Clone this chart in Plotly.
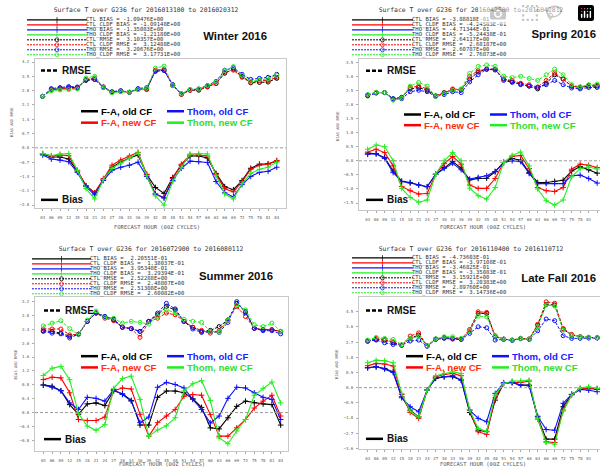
import plotly.graph_objects as go

W, H = 600, 471

HOURS = list(range(3, 85, 3))
XTICK_LABELS = [f"{h:02d}" for h in HOURS]
SERIES = ["CTL", "CTL_CLDF", "THO", "THO_CLDF"]
LABELS = ["F-A, old CF", "F-A, new CF", "Thom, old CF", "Thom, new CF"]

# ---------------- Winter 2016 ----------------
W_CTL_BIAS = [-0.30, -0.45, -0.45, -0.55, -1.13, -1.86, -2.20, -1.55, -0.95, -0.70, -0.50, -0.35, -1.30, -1.94,
              -2.23, -1.45, -0.85, -0.40, -0.40, -0.50, -1.25, -1.90, -2.05, -1.60, -1.00, -0.80, -0.78, -0.65]
W_CLDF_BIAS = [-0.28, -0.40, -0.35, -0.38, -1.10, -1.85, -2.20, -1.50, -0.85, -0.60, -0.40, -0.22, -1.30, -2.26,
               -2.43, -1.50, -0.80, -0.35, -0.35, -0.40, -1.30, -2.00, -2.15, -1.65, -1.05, -0.85, -0.80, -0.62]
W_THO_BIAS = [-0.35, -0.55, -0.60, -0.68, -1.20, -1.90, -2.30, -1.60, -1.10, -0.95, -0.85, -0.70, -1.40, -2.26,
              -2.46, -1.60, -1.00, -0.65, -0.68, -0.72, -1.65, -2.20, -2.40, -1.80, -1.40, -1.20, -1.15, -0.95]
W_THOCLDF_BIAS = [-0.28, -0.38, -0.30, -0.28, -1.10, -2.00, -2.50, -1.55, -1.00, -0.75, -0.50, -0.25, -1.35, -2.35,
                  -2.80, -1.65, -0.95, -0.30, -0.28, -0.30, -1.35, -2.25, -2.50, -1.75, -1.25, -1.05, -0.95, -0.70]
W_CTL_RMSE = [2.52, 2.85, 2.90, 2.95, 2.95, 3.30, 3.35, 2.95, 2.72, 2.78, 2.72, 2.88, 2.88, 3.75,
              3.80, 3.05, 2.62, 2.82, 2.82, 2.98, 3.15, 3.65, 3.85, 3.50, 3.18, 3.20, 3.22, 3.40]
W_CLDF_RMSE = [2.52, 2.83, 2.88, 2.90, 2.92, 3.35, 3.42, 2.98, 2.72, 2.76, 2.72, 2.85, 2.85, 3.80,
               3.85, 3.05, 2.62, 2.82, 2.85, 3.00, 3.15, 3.70, 3.80, 3.45, 3.20, 3.28, 3.30, 3.45]
W_THO_RMSE = [2.52, 2.90, 2.95, 3.00, 2.98, 3.32, 3.35, 2.98, 2.75, 2.80, 2.72, 2.90, 2.95, 3.75,
              3.78, 3.10, 2.65, 2.85, 2.88, 3.05, 3.25, 3.80, 3.92, 3.60, 3.35, 3.40, 3.45, 3.60]
W_THOCLDF_RMSE = [2.52, 2.80, 2.83, 2.85, 2.88, 3.42, 3.50, 2.95, 2.70, 2.75, 2.72, 2.85, 2.92, 3.90,
                  4.00, 3.05, 2.65, 2.85, 2.88, 3.05, 3.22, 3.78, 3.98, 3.55, 3.25, 3.32, 3.38, 3.55]
W_BIAS_STATS = ["-1.09476E+00", "-1.09148E+00", "-1.35083E+00", "-1.21180E+00"]
W_RMSE_STATS = ["3.10357E+00", "3.12488E+00", "3.20676E+00", "3.17731E+00"]
W_YTICKS = [-2.8, -2.1, -1.4, -0.7, 0.0, 0.7, 1.4, 2.1, 2.8, 3.5, 4.2]

# ---------------- Spring 2016 ----------------
S_CTL_BIAS = [0.27, 0.25, 0.11, -0.36, -0.73, -0.77, -0.86, -0.92, -0.48, -0.24, -0.03, -0.26, -0.68, -0.63,
              -0.62, -0.39, -0.06, 0.08, 0.02, -0.42, -0.77, -0.77, -0.73, -0.69, -0.36, -0.21, -0.32, -0.44]
S_CLDF_BIAS = [0.31, 0.41, 0.29, -0.18, -0.91, -1.06, -1.18, -1.16, -0.48, -0.10, 0.15, -0.12, -0.86, -0.98,
               -0.98, -0.63, -0.06, 0.15, 0.19, -0.28, -0.95, -1.06, -1.09, -0.95, -0.30, -0.12, -0.16, -0.24]
S_THO_BIAS = [0.23, 0.25, 0.08, -0.42, -0.73, -0.79, -0.86, -0.92, -0.48, -0.27, -0.09, -0.32, -0.65, -0.59,
              -0.53, -0.38, -0.06, 0.00, -0.03, -0.45, -0.81, -0.81, -0.81, -0.81, -0.53, -0.51, -0.63, -0.79]
S_THOCLDF_BIAS = [0.41, 0.56, 0.50, 0.00, -0.98, -1.30, -1.47, -1.39, -0.48, 0.00, 0.29, 0.00, -0.97, -1.24,
                  -1.36, -0.95, -0.06, 0.19, 0.31, -0.18, -1.00, -1.42, -1.57, -1.39, -0.57, -0.27, -0.22, -0.29]
S_CTL_RMSE = [2.33, 2.42, 2.42, 2.20, 2.25, 2.55, 2.60, 2.50, 2.30, 2.42, 2.52, 2.52, 2.90, 3.15,
              3.25, 3.22, 2.90, 2.80, 2.72, 2.65, 2.55, 2.75, 3.05, 2.90, 2.65, 2.60, 2.65, 2.65]
S_CLDF_RMSE = [2.33, 2.42, 2.42, 2.18, 2.25, 2.60, 2.65, 2.55, 2.30, 2.40, 2.55, 2.52, 3.00, 3.20,
               3.25, 3.25, 2.90, 2.85, 2.75, 2.70, 2.62, 2.85, 3.12, 2.90, 2.65, 2.62, 2.68, 2.68]
S_THO_RMSE = [2.30, 2.40, 2.42, 2.20, 2.20, 2.45, 2.50, 2.45, 2.28, 2.35, 2.45, 2.42, 2.80, 3.05,
              3.25, 3.25, 2.85, 2.78, 2.70, 2.65, 2.60, 2.70, 2.85, 2.70, 2.58, 2.55, 2.60, 2.60]
S_THOCLDF_RMSE = [2.35, 2.43, 2.42, 2.15, 2.22, 2.65, 2.78, 2.65, 2.28, 2.38, 2.50, 2.55, 3.10, 3.35,
                  3.40, 3.35, 3.00, 2.95, 3.00, 2.92, 2.85, 3.05, 3.25, 3.05, 2.70, 2.62, 2.70, 2.72]
S_BIAS_STATS = ["-3.88818E-01", "-4.24583E-01", "-4.71344E-01", "-5.24438E-01"]
S_RMSE_STATS = ["2.64117E+00", "2.68187E+00", "2.60787E+00", "2.76873E+00"]
S_YTICKS = [-1.5, -1.0, -0.5, 0.0, 0.5, 1.0, 1.5, 2.0, 2.5, 3.0, 3.5]

# ---------------- Summer 2016 ----------------
U_CTL_BIAS = [0.80, 0.76, 0.63, 0.23, -0.05, 0.25, 0.28, 0.20, 0.63, 0.54, 0.35, -0.36, -0.36, 0.44,
              0.62, 0.62, 0.57, 0.40, 0.15, -0.44, -0.47, -0.15, 0.18, 0.33, 0.28, 0.25, 0.23, -0.36]
U_CLDF_BIAS = [0.95, 1.02, 1.00, 0.57, -0.20, -0.23, -0.23, -0.13, 0.63, 0.71, 0.68, -0.05, -0.68, -0.29,
               -0.10, 0.09, 0.47, 0.52, 0.50, -0.06, -0.68, -0.68, -0.44, -0.20, 0.13, 0.33, 0.50, -0.10]
U_THO_BIAS = [0.79, 0.73, 0.63, 0.28, 0.09, 0.44, 0.41, 0.33, 0.66, 0.52, 0.33, -0.29, -0.13, 0.73,
              0.87, 0.81, 0.71, 0.38, 0.09, -0.30, -0.10, 0.41, 0.73, 0.71, 0.57, 0.44, 0.38, -0.20]
U_THOCLDF_BIAS = [1.07, 1.28, 1.33, 0.95, -0.03, -0.39, -0.51, -0.35, 0.70, 0.98, 1.05, 0.38, -0.68, -0.50,
                  -0.38, -0.15, 0.62, 0.83, 0.92, 0.35, -0.73, -0.90, -0.53, -0.20, 0.50, 0.70, 0.88, 0.28]
U_CTL_RMSE = [2.36, 2.34, 2.29, 2.20, 2.26, 2.63, 2.87, 2.77, 2.69, 2.46, 2.42, 2.34, 2.63, 2.82,
              3.06, 2.96, 2.63, 2.46, 2.34, 2.37, 2.48, 2.67, 3.15, 2.91, 2.43, 2.39, 2.39, 2.34]
U_CLDF_RMSE = [2.41, 2.41, 2.41, 2.24, 2.26, 2.63, 2.87, 2.72, 2.65, 2.46, 2.42, 2.17, 2.63, 2.72,
               2.87, 2.82, 2.63, 2.46, 2.37, 2.29, 2.36, 2.67, 3.06, 2.77, 2.43, 2.39, 2.39, 2.34]
U_THO_RMSE = [2.34, 2.29, 2.27, 2.15, 2.26, 2.63, 2.87, 2.77, 2.67, 2.46, 2.42, 2.34, 2.63, 2.87,
              3.15, 2.99, 2.63, 2.41, 2.31, 2.34, 2.31, 2.60, 3.20, 2.88, 2.43, 2.36, 2.36, 2.27]
U_THOCLDF_RMSE = [2.50, 2.58, 2.65, 2.42, 2.24, 2.67, 2.93, 2.74, 2.72, 2.58, 2.63, 2.60, 2.55, 2.77,
                  2.96, 2.88, 2.69, 2.63, 2.60, 2.34, 2.32, 2.67, 3.10, 2.96, 2.53, 2.48, 2.58, 2.34]
U_BIAS_STATS = [" 2.20551E-01", " 1.38037E-01", " 3.95348E-01", " 3.29394E-01"]
U_RMSE_STATS = ["2.52288E+00", "2.48807E+00", "2.51308E+00", "2.60082E+00"]
U_YTICKS = [-0.8, -0.4, 0.0, 0.4, 0.8, 1.2, 1.6, 2.0, 2.4, 2.8, 3.2]

# ---------------- Late Fall 2016 ----------------
F_CTL_BIAS = [1.18, 1.24, 1.14, 0.94, -0.54, -1.33, -1.73, -0.14, 0.55, 0.65, 0.65, 0.45, -1.47, -2.52,
              -2.61, -0.74, 0.25, 0.31, 0.15, 0.15, -1.73, -3.05, -3.05, -1.13, -0.40, -0.11, -0.05, -0.09]
F_CLDF_BIAS = [1.30, 1.44, 1.40, 1.28, -0.40, -1.47, -1.82, -0.14, 0.65, 0.78, 0.84, 0.71, -1.33, -2.61,
               -2.77, -0.60, 0.25, 0.31, 0.31, 0.39, -1.86, -3.21, -3.25, -1.33, -0.40, -0.08, -0.01, -0.05]
F_THO_BIAS = [1.18, 1.24, 1.10, 0.90, -0.60, -1.13, -1.43, -0.14, 0.59, 0.65, 0.71, 0.45, -1.33, -1.82,
              -2.02, -0.34, 0.30, 0.31, 0.15, 0.11, -1.69, -2.48, -2.52, -0.93, -0.40, -0.11, -0.15, -0.24]
F_THOCLDF_BIAS = [1.48, 1.63, 1.60, 1.48, -0.34, -1.39, -1.73, -0.14, 0.71, 0.84, 0.94, 0.84, -1.33, -2.42,
                  -2.58, -0.44, 0.25, 0.39, 0.39, 0.45, -1.82, -3.25, -3.35, -1.39, -0.45, -0.01, 0.05, -0.05]
F_CTL_RMSE = [2.76, 2.86, 2.82, 2.66, 2.52, 2.92, 3.12, 2.48, 2.88, 2.96, 2.92, 2.88, 3.35, 4.40,
              4.40, 3.02, 2.88, 2.82, 2.92, 2.88, 3.71, 4.93, 4.90, 3.47, 3.12, 3.02, 2.98, 2.96]
F_CLDF_RMSE = [2.76, 2.92, 2.86, 2.72, 2.52, 3.06, 3.25, 2.48, 2.88, 2.96, 2.92, 2.88, 3.45, 4.50,
               4.46, 3.08, 2.88, 2.82, 2.92, 2.88, 3.75, 5.09, 5.00, 3.51, 3.16, 3.02, 2.98, 2.96]
F_THO_RMSE = [2.76, 2.82, 2.66, 2.56, 2.52, 2.76, 2.82, 2.45, 2.86, 2.92, 2.88, 2.86, 3.22, 3.61,
              3.55, 2.82, 2.86, 2.80, 2.90, 2.86, 3.37, 4.07, 3.97, 3.08, 2.92, 2.92, 2.94, 2.94]
F_THOCLDF_RMSE = [2.82, 2.98, 2.92, 2.86, 2.55, 2.92, 3.02, 2.48, 2.90, 3.02, 3.02, 2.92, 3.35, 4.24,
                  4.20, 3.05, 2.88, 2.82, 2.92, 2.88, 3.61, 4.90, 4.84, 3.41, 3.12, 3.02, 2.98, 2.96]
F_BIAS_STATS = ["-4.73603E-01", "-3.97108E-01", "-3.46825E-01", "-3.35083E-01"]
F_RMSE_STATS = ["3.15921E+00", "3.20383E+00", "2.89760E+00", "3.14736E+00"]
F_YTICKS = [-3.6, -2.7, -1.8, -0.9, 0.0, 0.9, 1.8, 2.7, 3.6, 4.5]

# ---------------- styling / layout ----------------
LINE_COLORS = ["#000000", "#ff0000", "#1010ff", "#22ee22"]
TEXT_COLORS = ["#000000", "#ff3010", "#2020ff", "#33dd33"]
MONO = "DejaVu Sans Mono"
SANS = "Liberation Sans"
GRAY = "#555555"

PANELS = [
    dict(season="Winter 2016", title="Surface T over G236 for 2016013100 to 2016020312",
         bias=[W_CTL_BIAS, W_CLDF_BIAS, W_THO_BIAS, W_THOCLDF_BIAS],
         rmse=[W_CTL_RMSE, W_CLDF_RMSE, W_THO_RMSE, W_THOCLDF_RMSE],
         bstats=W_BIAS_STATS, rstats=W_RMSE_STATS, yticks=W_YTICKS,
         box=(35, 286, 59, 209), xr=(0.35, 87.2), yr=(-2.95, 4.36), mirror_y=True,
         title_xy=(146, 10.7), leg=(27, 87, 20), season_xy=(267, 37),
         rm=(41, 70.7), bi=(41, 200.7), fa=(81, 111.7), th=(167, 111.7), row2=11.5,
         xt=(157, 228.5), yt=(11.7, 123)),
    dict(season="Spring 2016", title="Surface T over G236 for 2016042500 to 2016042812",
         bias=[S_CTL_BIAS, S_CLDF_BIAS, S_THO_BIAS, S_THOCLDF_BIAS],
         rmse=[S_CTL_RMSE, S_CLDF_RMSE, S_THO_RMSE, S_THOCLDF_RMSE],
         bstats=S_BIAS_STATS, rstats=S_RMSE_STATS, yticks=S_YTICKS,
         box=(359, 600, 59, 211), xr=(-0.06, 85.0), yr=(-1.75, 3.62), mirror_y=False,
         title_xy=(471, 10.7), leg=(352, 413, 20), season_xy=(596, 35),
         rm=(366, 71), bi=(366, 200.7), fa=(404, 115), th=(490, 115), row2=10.7,
         xt=(483, 228.5), yt=(337.7, 127)),
    dict(season="Summer 2016", title="Surface T over G236 for 2016072900 to 2016080112",
         bias=[U_CTL_BIAS, U_CLDF_BIAS, U_THO_BIAS, U_THOCLDF_BIAS],
         rmse=[U_CTL_RMSE, U_CLDF_RMSE, U_THO_RMSE, U_THOCLDF_RMSE],
         bstats=U_BIAS_STATS, rstats=U_RMSE_STATS, yticks=U_YTICKS,
         box=(35, 288, 298, 453), xr=(0.16, 86.5), yr=(-1.11, 3.34), mirror_y=True,
         title_xy=(151, 250), leg=(32, 91, 260), season_xy=(273, 278),
         rm=(44, 311.7), bi=(44, 441), fa=(81, 357.7), th=(167, 357.7), row2=11.3,
         xt=(162, 467), yt=(15, 366)),
    dict(season="Late Fall 2016", title="Surface T over G236 for 2016110400 to 2016110712",
         bias=[F_CTL_BIAS, F_CLDF_BIAS, F_THO_BIAS, F_THOCLDF_BIAS],
         rmse=[F_CTL_RMSE, F_CLDF_RMSE, F_THO_RMSE, F_THOCLDF_RMSE],
         bstats=F_BIAS_STATS, rstats=F_RMSE_STATS, yticks=F_YTICKS,
         box=(359, 600, 298, 451), xr=(-0.06, 85.0), yr=(-3.64, 5.39), mirror_y=False,
         title_xy=(471, 250), leg=(352, 413, 259), season_xy=(596, 280),
         rm=(366, 311.7), bi=(366, 440.7), fa=(406, 357.7), th=(492, 357.7), row2=11.3,
         xt=(483, 467), yt=(336.7, 366)),
]

fig = go.Figure()
annotations = []
shapes = []
layout = dict(
    width=W, height=H, margin=dict(l=0, r=0, t=0, b=0),
    paper_bgcolor="white", plot_bgcolor="rgba(0,0,0,0)", showlegend=False,
)

OV = "5"  # overlay pixel axis


def px_line(x0, x1, y, color, dash="solid", width=1.0, marker=None, msize=4):
    xs = [x0, (x0 + x1) / 2, x1]
    ys = [y, y, y]
    mode = "lines"
    kw = {}
    if marker:
        mode = "lines+markers"
        kw["marker"] = dict(symbol=marker, size=[0, msize, 0], color=color,
                            line=dict(color=color, width=1))
    fig.add_trace(go.Scatter(x=xs, y=ys, mode=mode, xaxis="x" + OV, yaxis="y" + OV,
                             line=dict(color=color, dash=dash, width=width),
                             hoverinfo="skip", **kw))


def px_label(x, y, text, size, color="#333333", family=MONO, pos="middle right", bold=False):
    # plain text mark on the pixel overlay axis (no annotation box)
    fig.add_trace(go.Scatter(x=[x], y=[y], mode="text", text=[f"<b>{text}</b>" if bold else text],
                             textposition=pos,
                             textfont=dict(family=family, size=size, color=color),
                             xaxis="x" + OV, yaxis="y" + OV, hoverinfo="skip", cliponaxis=False))


def px_text(x, y, text, size, color="#333333", family=MONO, xanchor="left", bold=False, angle=0):
    annotations.append(dict(x=x, y=y, xref="x" + OV, yref="y" + OV, text=f"<b>{text}</b>" if bold else text,
                            showarrow=False, xanchor=xanchor, yanchor="middle", textangle=angle,
                            borderpad=0, font=dict(family=family, size=size, color=color)))


for i, p in enumerate(PANELS, start=1):
    sx = "" if i == 1 else str(i)
    x0, x1, y0, y1 = p["box"]
    layout["xaxis" + sx] = dict(
        domain=[x0 / W, min(x1 / W, 1.0)], range=list(p["xr"]), anchor="y" + sx,
        tickmode="array", tickvals=HOURS, ticktext=XTICK_LABELS,
        tickfont=dict(family=MONO, size=4, color=GRAY), ticks="outside", ticklen=2,
        tickcolor="#aaaaaa", ticklabelstandoff=3,
        showline=True, linecolor="#c8c8c8", linewidth=1, mirror=True,
        showgrid=False, zeroline=False, fixedrange=True)
    layout["yaxis" + sx] = dict(
        domain=[1 - y1 / H, 1 - y0 / H], range=list(p["yr"]), anchor="x" + sx,
        tickmode="array", tickvals=p["yticks"], tickformat=".1f",
        tickfont=dict(family=MONO, size=4, color=GRAY), ticks="outside", ticklen=2,
        tickcolor="#aaaaaa", ticklabelstandoff=2,
        showline=True, linecolor="#c8c8c8", linewidth=1, mirror=p["mirror_y"],
        showgrid=False, zeroline=False, fixedrange=True)

    # zero reference line
    shapes.append(dict(type="line", xref=f"x{sx} domain", yref="y" + sx, x0=0, x1=1, y0=0, y1=0,
                       line=dict(color="#9a9a9a", width=1, dash="3px,2px")))

    # data
    for k in range(4):
        fig.add_trace(go.Scatter(
            x=HOURS, y=p["rmse"][k], mode="lines+markers", xaxis="x" + sx, yaxis="y" + sx,
            line=dict(color=LINE_COLORS[k], width=1, dash="3px,1.5px"),
            marker=dict(symbol="circle-open", size=4, color=LINE_COLORS[k],
                        line=dict(color=LINE_COLORS[k], width=1)),
            name=f"{SERIES[k]} RMSE"))
    for k in range(4):
        fig.add_trace(go.Scatter(
            x=HOURS, y=p["bias"][k], mode="lines+markers", xaxis="x" + sx, yaxis="y" + sx,
            line=dict(color=LINE_COLORS[k], width=1.1),
            marker=dict(symbol="cross-thin", size=4, color=LINE_COLORS[k],
                        line=dict(color=LINE_COLORS[k], width=1)),
            name=f"{SERIES[k]} BIAS"))

    # header: title and stat legend
    tx, ty = p["title_xy"]
    px_label(tx, ty, p["title"], 6.4, color="#333333", pos="middle center")
    lx0, lx1, ly0 = p["leg"]
    for k in range(4):
        yy = ly0 + 5 * k
        px_line(lx0, lx1, yy, LINE_COLORS[k], width=1.2, marker="line-ns", msize=4)
        px_label(lx1 - 1, yy, f"{SERIES[k]} BIAS = {p['bstats'][k]}", 5.6)
    for k in range(4):
        yy = ly0 + 5 * (k + 4)
        px_line(lx0, lx1, yy, LINE_COLORS[k], dash="2px,1px", width=1.0, marker="circle-open", msize=4)
        px_label(lx1 - 1, yy, f"{SERIES[k]} RMSE =  {p['rstats'][k]}", 5.6)

    # season label (right-aligned text mark)
    sxp, syp = p["season_xy"]
    px_label(sxp, syp, p["season"], 11.4, color="#111111", family=SANS, pos="middle left", bold=True)

    # in-plot key
    rx, ry = p["rm"]
    px_line(rx, rx + 17, ry, "#000000", dash="4px,2px", width=2.5)
    px_text(rx + 20, ry, "RMSE", 10, color="#111111", family=SANS, bold=True)
    bx, by = p["bi"]
    px_line(bx, bx + 17, by, "#000000", width=2.5)
    px_text(bx + 20, by, "Bias", 10, color="#111111", family=SANS, bold=True)
    for k in range(4):
        kx, ky = (p["fa"] if k < 2 else p["th"])
        ky = ky + (p["row2"] if k % 2 == 1 else 0)
        px_line(kx, kx + 17, ky, LINE_COLORS[k], width=2.5)
        px_text(kx + 19, ky, LABELS[k], 9.6, color=TEXT_COLORS[k], family=SANS, bold=True)

    # axis titles
    xtx, xty = p["xt"]
    px_label(xtx, xty, "FORECAST HOUR (00Z CYCLES)", 5.5, color=GRAY, pos="middle center")
    ytx, yty = p["yt"]
    px_text(ytx, yty, "BIAS AND RMSE", 3.8, color=GRAY, xanchor="center", angle=-90)

layout["xaxis" + OV] = dict(domain=[0, 1], range=[0, W], visible=False, fixedrange=True, anchor="y" + OV)
layout["yaxis" + OV] = dict(domain=[0, 1], range=[H, 0], visible=False, fixedrange=True, anchor="x" + OV)
layout["annotations"] = annotations
layout["shapes"] = shapes
fig.update_layout(**layout)

# remove the browser's default page margin so the figure sits at the window origin
fig.write_html("out.html",
               post_script="document.body.style.margin='0px';document.body.style.overflow='hidden';")
